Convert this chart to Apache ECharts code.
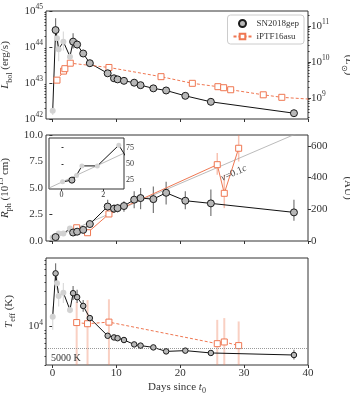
<!DOCTYPE html>
<html>
<head>
<meta charset="utf-8">
<script src="https://cdn.jsdelivr.net/npm/echarts@6/dist/echarts.min.js"></script>
<style>
  html, body { margin: 0; padding: 0; background: #fff; }
  #main { width: 350px; height: 400px; }
</style>
</head>
<body>
<div id="main"></div>
<script>
var LSUN = 3.828e33;               // erg/s
var AU_PER_CM15 = 1e15 / 1.496e13; // 10^15 cm in AU
var ORANGE = '#ef7752';
var FONT = 'Liberation Serif';
var TXT = '#333';

var dayTicks = [0, 10, 20, 30, 40];

// SN2018gep, dark markers
var gepDays = [0.5, 3.24, 3.87, 4.82, 5.86, 8.65, 9.64, 10.2, 11.2, 12.8, 13.8, 15.8, 17.8, 20.8, 24.8, 37.8];
var gepLum = [2.95e44, 1.41e44, 1.17e44, 6.6e43, 3.55e43, 1.86e43, 1.35e43, 1.26e43, 1.15e43, 1.02e43, 8.7e42, 7.1e42, 6.2e42, 4.4e42, 3.0e42, 1.45e42];
var gepRad = [0.37, 0.8, 0.88, 1.05, 1.6, 3.25, 3.05, 3.1, 3.3, 3.9, 4.05, 3.95, 4.55, 3.8, 3.55, 2.7];
var gepTemp = [52600, 28300, 25000, 19000, 13000, 7480, 7100, 6930, 6550, 5710, 5500, 5200, 4590, 4700, 4370, 4100];

// SN2018gep, early light grey points
var earlyDays = [0.05, 0.72, 0.98, 1.72, 2.75];
var earlyLum = [1.7e42, 1.74e44, 8.7e43, 1.41e44, 5.4e43];
var earlyRad = [0.33, 0.48, 0.7, 0.7, 1.18];
var earlyTemp = [13600, 38500, 26000, 28800, 16800];

// error bars: [day, low, high]
var gepLumErr = [[0.5, 1.41e44, 6.3e44], [3.24, 9.1e43, 2.4e44], [3.87, 9.1e43, 1.55e44], [4.82, 5.7e43, 7.7e43]];
var earlyLumErr = [[0.05, 1.3e42, 2.2e42], [0.72, 1.0e44, 2.4e44], [0.98, 4.0e43, 1.55e44], [1.72, 8.0e43, 2.7e44], [2.75, 4.0e43, 7.4e43]];
var gepRadErr = [[4.82, 0.9, 1.2], [5.86, 1.4, 1.8], [8.65, 2.65, 3.9], [9.64, 2.65, 3.45], [10.2, 2.7, 3.5], [11.2, 2.75, 3.75],
  [12.8, 3.1, 4.7], [13.8, 3.0, 5.0], [15.8, 2.65, 5.15], [17.8, 3.45, 5.6], [20.8, 3.0, 4.7], [24.8, 2.35, 4.85], [37.8, 1.9, 3.9]];
var earlyRadErr = [[0.72, 0.38, 0.6], [2.75, 1.02, 1.36]];
var gepTempErr = [[0.5, 38500, 72000], [3.24, 22900, 35500], [3.87, 20900, 31600], [4.82, 15800, 22900], [5.86, 12000, 14200], [37.8, 3550, 4840]];
var earlyTempErr = [[0.05, 9000, 18600], [0.72, 31600, 47900], [0.98, 18600, 33100], [1.72, 20900, 38900], [2.75, 15100, 19500]];

// iPTF16asu
var asuLumDays = [0.72, 1.75, 1.95, 2.8, 8.85, 17.0, 21.9, 25.9, 26.8, 27.9, 33.0, 35.9, 42.0];
var asuLum = [1.2e43, 2.14e43, 2.5e43, 3.55e43, 2.7e43, 1.5e43, 9.8e42, 7.9e42, 7.4e42, 6.5e42, 4.7e42, 4.0e42, 3.4e42];
var asuDays = [3.8, 5.5, 8.85, 25.8, 26.9, 29.15];
var asuRad = [1.25, 0.78, 2.55, 7.2, 4.5, 8.75];
var asuTemp = [11300, 10900, 11460, 5840, 6160, 5500];
var asuRadErr = [[3.8, 1.05, 1.5], [25.8, 6.25, 8.3], [26.9, 3.1, 6.25], [29.15, 7.5, 10.5]];
var asuTempErr = [[3.8, 1000, 21700], [5.5, 1000, 22800], [8.85, 1000, 23400], [25.8, 1000, 12300], [26.9, 1000, 13000], [29.15, 1000, 11700]];

// guide lines
var vLine = [[0, 0.25], [40, 10.6]];
var insetVLine = [[-0.6, 12.5], [3.0, 66.5]];
var vLabelPos = [28.4, 6.4];
var tempFloor = 5000;

function pairs(xs, ys) { return xs.map(function (x, i) { return [x, ys[i]]; }); }
function merged(xa, ya, xb, yb) {
  return pairs(xa, ya).concat(pairs(xb, yb)).sort(function (a, b) { return a[0] - b[0]; });
}
function toAU(v) { return v * AU_PER_CM15; }
function minorTicks(k0, k1) {
  var out = [];
  for (var k = k0; k <= k1; k++) for (var m = 2; m <= 9; m++) out.push(m * Math.pow(10, k));
  return out;
}

var rich = {
  n: { fontFamily: FONT, fontSize: 11, color: TXT, lineHeight: 16 },
  i: { fontFamily: FONT, fontSize: 11, fontStyle: 'italic', color: TXT, lineHeight: 16 },
  sub: { fontFamily: FONT, fontSize: 8, color: TXT, lineHeight: 9, verticalAlign: 'bottom' },
  sup: { fontFamily: FONT, fontSize: 8, color: TXT, lineHeight: 9, verticalAlign: 'top' }
};
var tickRich = {
  b: { fontFamily: FONT, fontSize: 11, color: TXT, lineHeight: 15 },
  s: { fontFamily: FONT, fontSize: 7.5, color: TXT, lineHeight: 8, verticalAlign: 'top' }
};
function pow10Label(v) { return '{b|10}{s|' + Math.round(Math.log10(v)) + '}'; }

function xAx(grid, labels, name) {
  return {
    type: 'value', gridIndex: grid, min: -1, max: 40,
    axisLine: { show: false }, splitLine: { show: false },
    axisTick: { customValues: dayTicks, length: 3, lineStyle: { color: TXT } },
    axisLabel: { show: labels, customValues: dayTicks, margin: 3, fontFamily: FONT, fontSize: 11, color: TXT,
      showMinLabel: true, showMaxLabel: true, hideOverlap: false },
    name: name || '', nameLocation: 'middle', nameGap: 14, nameTextStyle: { rich: rich }
  };
}
function yAx(o) {
  var base = {
    gridIndex: 0, axisLine: { show: false }, splitLine: { show: false },
    axisTick: { length: 3, lineStyle: { color: TXT } },
    axisLabel: { margin: 3, fontFamily: FONT, fontSize: 11, color: TXT, rich: tickRich,
      showMinLabel: true, showMaxLabel: true, hideOverlap: false },
    nameLocation: 'middle', nameRotate: 90, nameTextStyle: { rich: rich }
  };
  for (var k in o) {
    if (typeof o[k] === 'object' && !Array.isArray(o[k]) && base[k]) base[k] = Object.assign({}, base[k], o[k]);
    else base[k] = o[k];
  }
  return base;
}
function gridAt(left, top, width, height, extra) {
  return Object.assign({ left: left, top: top, width: width, height: height, show: true,
    borderColor: TXT, borderWidth: 1, outerBoundsMode: 'none', containLabel: false }, extra || {});
}

function errSeries(data, color, width, xi, yi, z) {
  return {
    type: 'custom', xAxisIndex: xi, yAxisIndex: yi, data: data, clip: true, silent: true, z: z || 2,
    encode: { x: 0, y: [1, 2] },
    renderItem: function (params, api) {
      var a = api.coord([api.value(0), api.value(1)]);
      var b = api.coord([api.value(0), api.value(2)]);
      return { type: 'line', shape: { x1: a[0], y1: a[1], x2: b[0], y2: b[1] }, style: { stroke: color, lineWidth: width } };
    }
  };
}
function gepLine(data, xi, yi, z) {
  return { type: 'line', xAxisIndex: xi, yAxisIndex: yi, data: data, showSymbol: false, clip: true, silent: true,
    lineStyle: { color: '#111', width: 1 }, z: z || 3 };
}
function gepMarks(name, data, xi, yi, size, z) {
  return { type: 'scatter', name: name, xAxisIndex: xi, yAxisIndex: yi, data: data, symbolSize: size, silent: true,
    itemStyle: { color: '#b8b8b8', borderColor: '#1a1a1a', borderWidth: 1, opacity: 1 }, z: z || 5 };
}
function earlyMarks(data, xi, yi, size, z) {
  return { type: 'scatter', xAxisIndex: xi, yAxisIndex: yi, data: data, symbolSize: size, silent: true,
    itemStyle: { color: '#d2d2d2', opacity: 1 }, z: z || 4 };
}
function asuLine(name, data, xi, yi, dashed, size) {
  return { type: 'line', name: name, xAxisIndex: xi, yAxisIndex: yi, data: data, clip: true, silent: true,
    symbol: 'rect', symbolSize: size, showSymbol: true,
    itemStyle: { color: '#fff', borderColor: ORANGE, borderWidth: 1 },
    lineStyle: { color: ORANGE, width: 1, type: dashed ? [3, 2] : 'solid' }, z: 4 };
}

var chart = echarts.init(document.getElementById('main'), null, { renderer: 'canvas' });

var option = {
  animation: false,
  backgroundColor: '#fff',
  textStyle: { fontFamily: FONT },
  grid: [
    gridAt(46, 11, 262, 108),
    gridAt(46, 135, 262, 106),
    gridAt(46, 258, 262, 107),
    gridAt(49, 138, 75, 51, { backgroundColor: '#fff', z: 5 })
  ],
  legend: {
    data: ['SN2018gep', 'iPTF16asu'],
    orient: 'vertical', right: 46, top: 15, itemWidth: 18, itemHeight: 7, itemGap: 4,
    padding: [4, 5, 3, 5], borderColor: '#ccc', borderWidth: 1, borderRadius: 3,
    backgroundColor: 'rgba(255,255,255,0.85)', selectedMode: false,
    textStyle: { fontFamily: FONT, fontSize: 9, color: TXT }
  },
  xAxis: [
    xAx(0, false),
    xAx(1, false),
    xAx(2, true, '{n|Days since }{i|t}{sub|0}'),
    {
      type: 'value', gridIndex: 3, min: -0.6, max: 3.0, z: 10,
      axisLine: { show: false }, splitLine: { show: false },
      axisTick: { customValues: [0, 2], length: 2, lineStyle: { color: TXT } },
      axisLabel: { customValues: [0, 2], margin: 2, fontFamily: FONT, fontSize: 8, color: TXT }
    }
  ],
  yAxis: [
    yAx({ type: 'log', gridIndex: 0, position: 'left', min: 1e42, max: 1e45,
      axisTick: { customValues: [1e42, 1e43, 1e44, 1e45 * 0.9999] },
      axisLabel: { customValues: [1e42, 1e43, 1e44, 1e45 * 0.9999], formatter: pow10Label },
      name: '{i|L}{sub|bol}{n| (erg/s)}', nameGap: 28 }),
    yAx({ type: 'log', gridIndex: 0, position: 'right', min: 1e42 / LSUN, max: 1e45 / LSUN, z: 20,
      axisTick: { customValues: [1e9, 1e10, 1e11] },
      axisLabel: { customValues: [1e9, 1e10, 1e11], formatter: pow10Label },
      name: '{n|(}{i|L}{sub|⊙}{n|)}', nameRotate: -90, nameGap: 32 }),
    yAx({ type: 'log', gridIndex: 0, position: 'left', min: 1e42, max: 1e45,
      axisTick: { customValues: minorTicks(42, 44), length: 1.5 }, axisLabel: { show: false } }),
    yAx({ type: 'log', gridIndex: 0, position: 'right', min: 1e42 / LSUN, max: 1e45 / LSUN,
      axisTick: { customValues: minorTicks(8, 11), length: 1.5 }, axisLabel: { show: false } }),
    yAx({ type: 'value', gridIndex: 1, position: 'left', min: 0, max: 10, interval: 2.5,
      axisTick: { customValues: [0, 2.5, 5, 7.5, 10] },
      axisLabel: { customValues: [0, 2.5, 5, 7.5, 10], formatter: function (v) { return v.toFixed(1); } },
      name: '{i|R}{sub|ph}{n| (10}{sup|15}{n| cm)}', nameGap: 29 }),
    yAx({ type: 'value', gridIndex: 1, position: 'right', min: 0, max: toAU(10),
      axisTick: { customValues: [0, 200, 400, 600] },
      axisLabel: { customValues: [0, 200, 400, 600] },
      name: '{n|(AU)}', nameRotate: -90, nameGap: 32 }),
    yAx({ type: 'log', gridIndex: 2, position: 'left', min: 3000, max: 85000,
      axisTick: { customValues: [1e4] },
      axisLabel: { customValues: [1e4], formatter: pow10Label },
      name: '{i|T}{sub|eff}{n| (K)}', nameGap: 28 }),
    yAx({ type: 'log', gridIndex: 2, position: 'left', min: 3000, max: 85000,
      axisTick: { customValues: minorTicks(3, 4), length: 1.5 }, axisLabel: { show: false } }),
    yAx({ type: 'value', gridIndex: 3, position: 'right', min: 11, max: 90, z: 10,
      axisTick: { customValues: [25, 50, 75], length: 2 },
      axisLabel: { customValues: [25, 50, 75], margin: 2, fontSize: 8 } })
  ],
  series: [
    // panel 1: luminosity
    gepMarks('SN2018gep', pairs(gepDays, gepLum), 0, 0, 7),
    asuLine('iPTF16asu', pairs(asuLumDays, asuLum), 0, 0, true, 6),
    errSeries(gepLumErr, '#777', 1.2, 0, 0),
    errSeries(earlyLumErr, '#dcdcdc', 1.2, 0, 0, 1),
    gepLine(merged(earlyDays, earlyLum, gepDays, gepLum), 0, 0),
    earlyMarks(pairs(earlyDays, earlyLum), 0, 0, 6),

    // panel 2: photospheric radius
    { type: 'line', xAxisIndex: 1, yAxisIndex: 4, data: vLine, showSymbol: false, clip: true, silent: true,
      lineStyle: { color: '#aaa', width: 0.8 }, z: 1 },
    errSeries(gepRadErr, '#777', 1.2, 1, 4),
    errSeries(earlyRadErr, '#dcdcdc', 1.2, 1, 4, 1),
    errSeries(asuRadErr, 'rgba(239,119,82,0.45)', 1.5, 1, 4),
    gepLine(merged(earlyDays, earlyRad, gepDays, gepRad), 1, 4),
    earlyMarks(pairs(earlyDays, earlyRad), 1, 4, 6),
    asuLine('iPTF16asu R', pairs(asuDays, asuRad), 1, 4, false, 6),
    gepMarks('SN2018gep R', pairs(gepDays, gepRad), 1, 4, 7),

    // inset (AU)
    { type: 'line', xAxisIndex: 3, yAxisIndex: 8, data: insetVLine, showSymbol: false, clip: true, silent: true,
      lineStyle: { color: '#aaa', width: 0.8 }, z: 10 },
    gepLine(merged(earlyDays, earlyRad.map(toAU), gepDays.slice(0, 2), gepRad.slice(0, 2).map(toAU)), 3, 8, 11),
    earlyMarks(pairs(earlyDays, earlyRad.map(toAU)), 3, 8, 5, 12),
    gepMarks('SN2018gep inset', pairs(gepDays.slice(0, 1), gepRad.slice(0, 1).map(toAU)), 3, 8, 6, 13),

    // panel 3: temperature
    errSeries(asuTempErr, 'rgba(239,119,82,0.35)', 2, 2, 6, 1),
    errSeries(gepTempErr, '#777', 1.2, 2, 6),
    errSeries(earlyTempErr, '#dcdcdc', 1.2, 2, 6, 1),
    Object.assign(gepLine(merged(earlyDays, earlyTemp, gepDays, gepTemp), 2, 6), {
      markLine: { silent: true, symbol: 'none', animation: false,
        lineStyle: { color: '#999', type: 'dotted', width: 1 },
        label: { show: true, position: 'insideStartBottom', formatter: '5000 K', fontFamily: FONT, fontSize: 10, color: TXT },
        data: [{ yAxis: tempFloor }] }
    }),
    earlyMarks(pairs(earlyDays, earlyTemp), 2, 6, 6),
    asuLine('iPTF16asu T', pairs(asuDays, asuTemp), 2, 6, true, 6),
    gepMarks('SN2018gep T', pairs(gepDays, gepTemp), 2, 6, 5.5)
  ]
};

chart.setOption(option);

// "v=0.1c" note placed under the guide line, via the panel's own scales
var vp = chart.convertToPixel({ xAxisIndex: 1, yAxisIndex: 4 }, vLabelPos);
chart.setOption({
  graphic: [{
    type: 'text', x: vp[0], y: vp[1], rotation: 24 * Math.PI / 180, z: 20, silent: true,
    style: {
      text: '{i|v}{n|=0.1}{i|c}', align: 'center', verticalAlign: 'middle',
      rich: {
        i: { fontFamily: FONT, fontSize: 10, fontStyle: 'italic', fill: '#444' },
        n: { fontFamily: FONT, fontSize: 10, fill: '#444' }
      }
    }
  }]
});
</script>
</body>
</html>
